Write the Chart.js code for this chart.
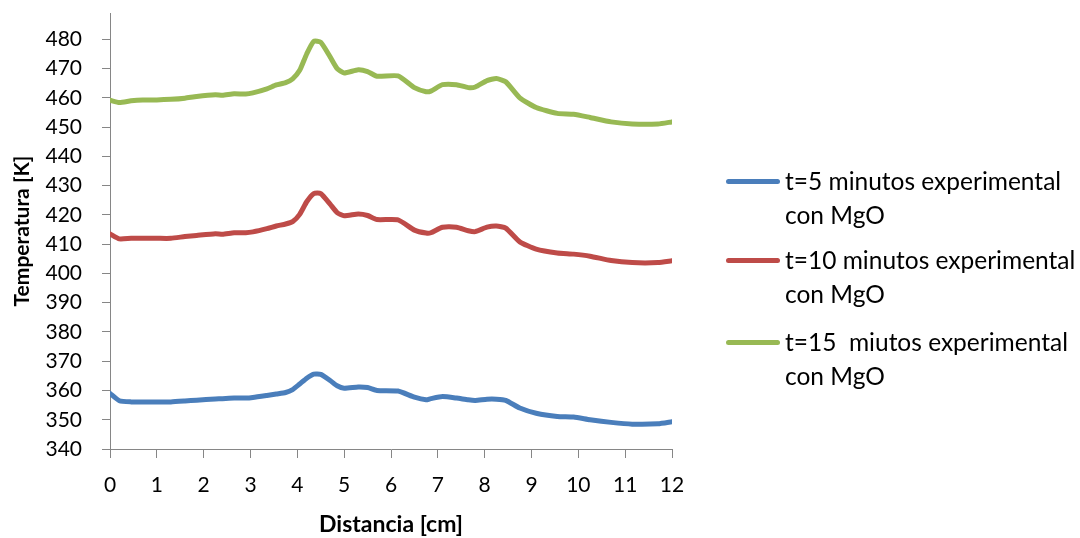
<!DOCTYPE html>
<html>
<head>
<meta charset="utf-8">
<script src="https://cdn.jsdelivr.net/npm/chart.js@4/dist/chart.umd.min.js"></script>
<style>
  html, body { margin: 0; padding: 0; background: #fff; }
  #wrap { position: relative; width: 1080px; height: 538px; }
  canvas { position: absolute; left: 0; top: 0; }
  .leg { position: absolute; left: 0; top: 0; font-family: Lato, "Liberation Sans", sans-serif; font-size: 24.5px; color: #000; }
  .item { position: absolute; left: 726px; width: 354px; }
  .swatch { position: absolute; left: 0; width: 54px; height: 5px; border-radius: 3px; }
  .txt { position: absolute; left: 59px; line-height: 34px; white-space: nowrap; }
</style>
</head>
<body>
<div id="wrap">
  <canvas id="c" width="1080" height="538"></canvas>
  <div class="leg" id="legend"></div>
</div>
<script>
// Distance [cm]
const distancia = [0, 0.2, 0.45, 0.7, 1.0, 1.3, 1.6, 1.85, 2.25, 2.4, 2.65, 2.9, 3.05, 3.35, 3.55, 3.75, 3.9, 4.05, 4.2, 4.35, 4.5, 4.7, 4.85, 5.0, 5.3, 5.5, 5.7, 6.15, 6.5, 6.75, 6.85, 7.1, 7.4, 7.65, 7.8, 8.05, 8.25, 8.45, 8.75, 9.1, 9.55, 9.9, 10.25, 10.7, 11.15, 11.7, 12.0];

// Temperature [K]
const t5 = [359.0, 356.5, 356.1, 356.1, 356.1, 356.1, 356.4, 356.7, 357.1, 357.2, 357.4, 357.4, 357.6, 358.3, 358.8, 359.3, 360.3, 362.2, 364.2, 365.6, 365.5, 363.4, 361.6, 360.8, 361.2, 361.0, 360.0, 359.8, 357.7, 356.8, 357.2, 357.9, 357.4, 356.8, 356.6, 357.0, 357.0, 356.6, 354.0, 352.2, 351.1, 350.9, 350.0, 349.1, 348.5, 348.6, 349.3];
const t10 = [413.5, 411.8, 412.0, 412.0, 412.0, 412.0, 412.6, 413.0, 413.6, 413.4, 413.9, 413.9, 414.2, 415.3, 416.2, 416.9, 417.7, 420.2, 424.5, 427.3, 427.3, 423.7, 420.8, 419.7, 420.3, 419.8, 418.4, 418.3, 414.8, 413.8, 413.9, 415.8, 415.8, 414.6, 414.3, 415.8, 416.2, 415.5, 410.8, 408.3, 407.0, 406.6, 405.9, 404.4, 403.7, 403.7, 404.3];
const t15 = [459.2, 458.4, 459.0, 459.3, 459.3, 459.5, 459.9, 460.5, 461.1, 460.9, 461.4, 461.3, 461.7, 463.1, 464.4, 465.2, 466.5, 469.4, 475.0, 479.3, 479.0, 474.0, 470.0, 468.5, 469.6, 469.0, 467.4, 467.5, 463.5, 462.1, 462.3, 464.5, 464.5, 463.5, 463.7, 465.9, 466.6, 465.5, 460.0, 456.7, 454.7, 454.4, 453.3, 451.8, 451.1, 451.1, 451.8];

const seriesNames = [
  ["t=5 minutos experimental", "con MgO"],
  ["t=10 minutos experimental", "con MgO"],
  ["t=15  miutos experimental", "con MgO"]
];
const seriesColors = ["#4a7ebb", "#be4b48", "#98b954"];
const yTitle = "Temperatura [K]";
const xTitle = "Distancia [cm]";

const FONT = 'Lato, "Liberation Sans", sans-serif';
const axisColor = "#868686";

function pts(vals) { return distancia.map((d, i) => ({ x: d, y: vals[i] })); }

const datasets = [t5, t10, t15].map((v, i) => ({
  label: seriesNames[i].join(" "),
  data: pts(v),
  borderColor: seriesColors[i],
  backgroundColor: seriesColors[i],
  borderWidth: 5,
  pointRadius: 0,
  tension: 0.18,
  borderCapStyle: "round",
  borderJoinStyle: "round",
  fill: false
}));

new Chart(document.getElementById("c"), {
  type: "line",
  data: { datasets },
  options: {
    responsive: false,
    animation: false,
    layout: { padding: { top: 13, right: 408, left: 0, bottom: 0 } },
    plugins: { legend: { display: false }, tooltip: { enabled: false } },
    scales: {
      x: {
        type: "linear",
        min: 0, max: 12,
        border: { color: axisColor, width: 1 },
        grid: { display: true, drawOnChartArea: false, drawTicks: true, tickLength: 9, color: axisColor },
        ticks: { stepSize: 1, color: "#000", font: { family: FONT, size: 21 }, padding: 15, maxRotation: 0 },
        title: { display: true, text: xTitle, color: "#000", font: { family: FONT, size: 23, weight: "bold" }, padding: { top: 6, bottom: 0 } },
        afterFit: (s) => { s.height = 89; s.paddingTop = 0; s.paddingBottom = 0; }
      },
      y: {
        type: "linear",
        min: 340, max: 489,
        border: { color: axisColor, width: 1 },
        grid: { display: true, drawOnChartArea: false, drawTicks: true, tickLength: 8, color: axisColor },
        ticks: { stepSize: 10, color: "#000", font: { family: FONT, size: 21 }, padding: 20 },
        afterBuildTicks: (s) => { s.ticks = s.ticks.filter(t => t.value % 10 === 0); },
        title: { display: true, text: yTitle, color: "#000", font: { family: FONT, size: 21, weight: "bold" }, padding: { top: 10, bottom: 0 } },
        afterFit: (s) => { s.width = 110; s.paddingTop = 0; s.paddingBottom = 0; }
      }
    }
  }
});

// HTML legend
const leg = document.getElementById("legend");
const legY = [181, 260, 342];
seriesNames.forEach((lines, i) => {
  const it = document.createElement("div");
  it.className = "item";
  it.style.top = (legY[i] - 17) + "px";
  const sw = document.createElement("div");
  sw.className = "swatch";
  sw.style.background = seriesColors[i];
  sw.style.top = "15px";
  it.appendChild(sw);
  const tx = document.createElement("div");
  tx.className = "txt";
  tx.innerHTML = lines.map(l => l.replace(/ /g, "&nbsp;")).join("<br>");
  it.appendChild(tx);
  leg.appendChild(it);
});
</script>
</body>
</html>
